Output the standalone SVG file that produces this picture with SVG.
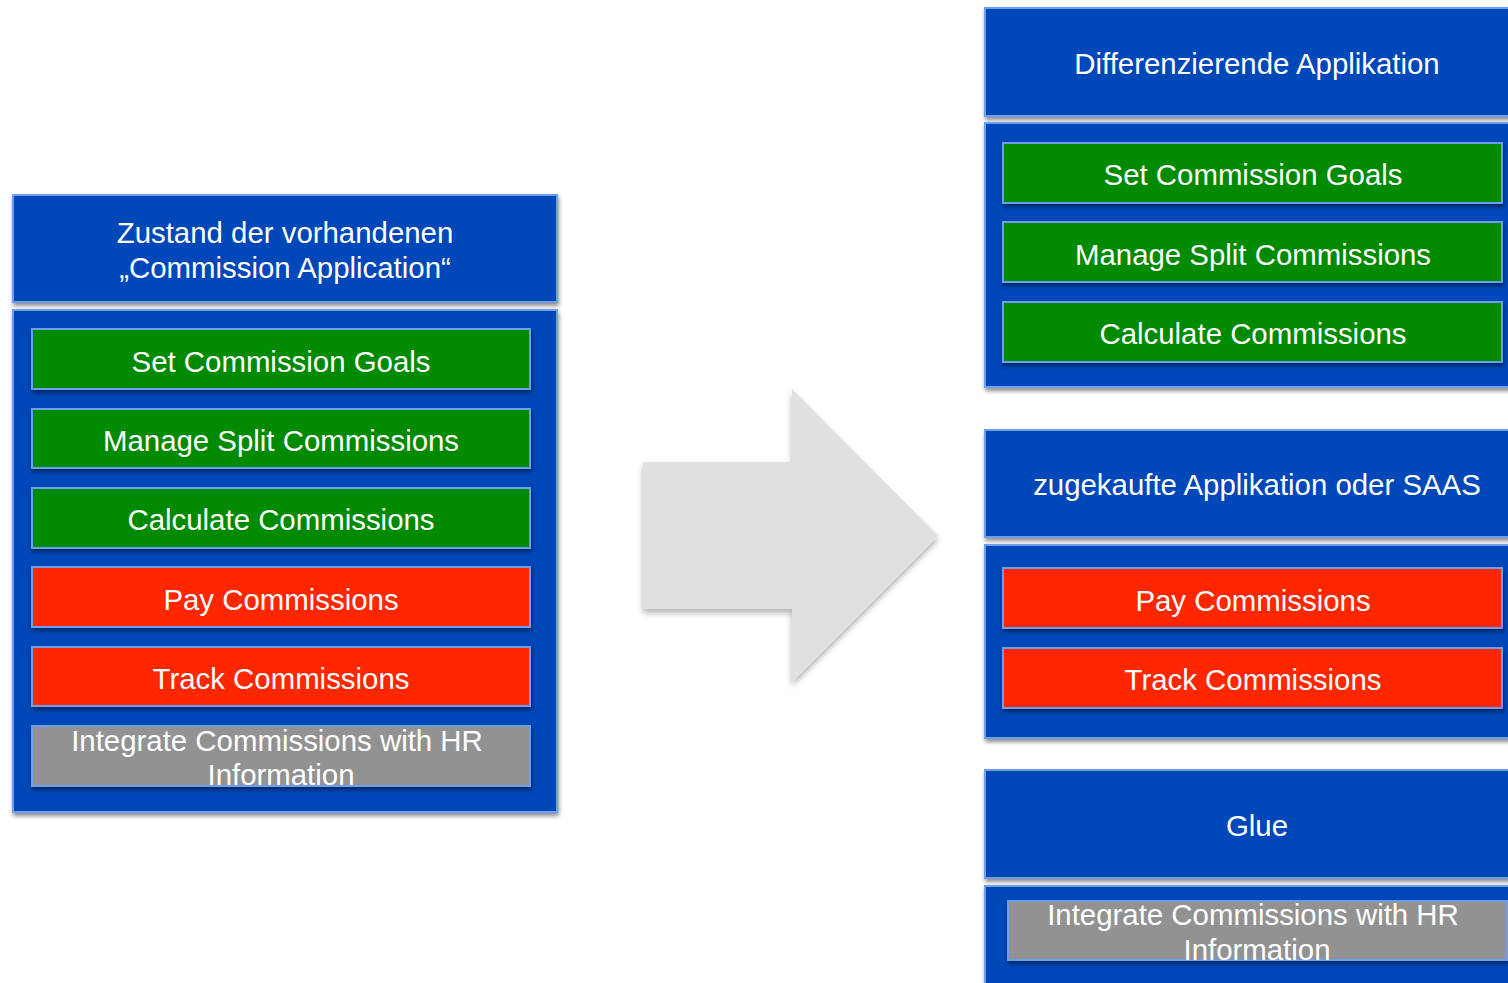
<svg xmlns="http://www.w3.org/2000/svg" width="1508" height="983" viewBox="0 0 1508 983">
<defs>
<filter id="sh" x="-5%" y="-10%" width="115%" height="130%">
<feDropShadow dx="1" dy="3" stdDeviation="2" flood-color="#000" flood-opacity="0.45"/>
</filter>
<filter id="sha" x="-10%" y="-10%" width="125%" height="125%">
<feDropShadow dx="0" dy="4" stdDeviation="3" flood-color="#000" flood-opacity="0.3"/>
</filter>
</defs>
<style>
.blue{fill:#0047b9;stroke:#6e9ef0;stroke-width:2;filter:url(#sh)}
.green{fill:#008a00;stroke:#6e9ef0;stroke-width:2;filter:url(#sh)}
.red{fill:#ff2600;stroke:#6e9ef0;stroke-width:2;filter:url(#sh)}
.gray{fill:#929292;stroke:#6e9ef0;stroke-width:2;filter:url(#sh)}
text{font-family:"Liberation Sans",Arial,sans-serif;font-size:29.4px;fill:#fff;text-anchor:middle}
</style>
<rect width="1508" height="983" fill="#fff"/>

<g id="arrow">
<polygon points="643,462 792,462 792,389 938,536 792,682 792,609 643,609" fill="#e0e0e0" filter="url(#sha)"/>
</g>

<g id="left-header">
<rect class="blue" x="13" y="195" width="544" height="107"/>
<text x="285" y="243">Zustand der vorhandenen</text>
<text x="285" y="278">„Commission Application“</text>
</g>
<g id="left-container">
<rect class="blue" x="13" y="310" width="544" height="502"/>
</g>
<g id="l-set"><rect class="green" x="32" y="329" width="498" height="60"/><text x="281" y="372">Set Commission Goals</text></g>
<g id="l-manage"><rect class="green" x="32" y="409" width="498" height="59"/><text x="281" y="451">Manage Split Commissions</text></g>
<g id="l-calc"><rect class="green" x="32" y="488" width="498" height="60"/><text x="281" y="530">Calculate Commissions</text></g>
<g id="l-pay"><rect class="red" x="32" y="567" width="498" height="60"/><text x="281" y="610">Pay Commissions</text></g>
<g id="l-track"><rect class="red" x="32" y="647" width="498" height="59"/><text x="281" y="689">Track Commissions</text></g>
<g id="l-integrate"><rect class="gray" x="32" y="726" width="498" height="60"/><text x="277" y="751">Integrate Commissions with HR</text><text x="281" y="785">Information</text></g>

<g id="r-header1"><rect class="blue" x="985" y="8" width="544" height="108"/><text x="1257" y="74">Differenzierende Applikation</text></g>
<g id="r-container1"><rect class="blue" x="985" y="123" width="544" height="264"/></g>
<g id="r-set"><rect class="green" x="1003" y="143" width="499" height="60"/><text x="1253" y="185">Set Commission Goals</text></g>
<g id="r-manage"><rect class="green" x="1003" y="222" width="499" height="60"/><text x="1253" y="265">Manage Split Commissions</text></g>
<g id="r-calc"><rect class="green" x="1003" y="302" width="499" height="60"/><text x="1253" y="344">Calculate Commissions</text></g>

<g id="r-header2"><rect class="blue" x="985" y="430" width="544" height="107"/><text x="1257" y="495">zugekaufte Applikation oder SAAS</text></g>
<g id="r-container2"><rect class="blue" x="985" y="545" width="544" height="193"/></g>
<g id="r-pay"><rect class="red" x="1003" y="568" width="499" height="60"/><text x="1253" y="611">Pay Commissions</text></g>
<g id="r-track"><rect class="red" x="1003" y="648" width="499" height="60"/><text x="1253" y="690">Track Commissions</text></g>

<g id="r-header3"><rect class="blue" x="985" y="770" width="544" height="108"/><text x="1257" y="836">Glue</text></g>
<g id="r-container3"><rect class="blue" x="985" y="886" width="544" height="120"/></g>
<g id="r-integrate"><rect class="gray" x="1008" y="901" width="499" height="59"/><text x="1253" y="925">Integrate Commissions with HR</text><text x="1257" y="960">Information</text></g>

<g id="connectors"></g>
</svg>
